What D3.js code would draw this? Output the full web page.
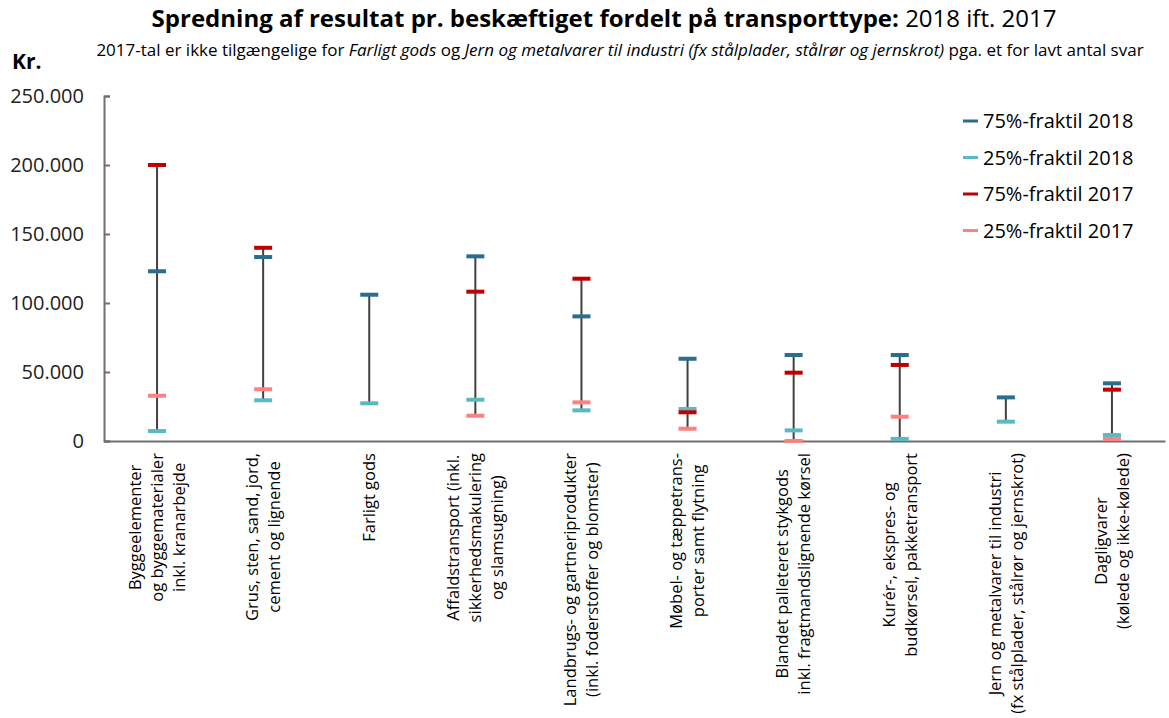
<!DOCTYPE html>
<html>
<head>
<meta charset="utf-8">
<script src="https://cdn.jsdelivr.net/npm/d3@7"></script>
<style>
  body { margin: 0; background: #fff; }
  text { font-family: "Open Sans", "DejaVu Sans", sans-serif; fill: #000; }
</style>
</head>
<body>
<svg id="chart" width="1169" height="718"></svg>
<script>
// categories (multi-line labels)
var categories = [
  ["Byggeelementer", "og byggematerialer", "inkl. kranarbejde"],
  ["Grus, sten, sand, jord,", "cement og lignende"],
  ["Farligt gods"],
  ["Affaldstransport (inkl.", "sikkerhedsmakulering", "og slamsugning)"],
  ["Landbrugs- og gartneriprodukter", "(inkl. foderstoffer og blomster)"],
  ["Møbel- og tæppetrans-", "porter samt flytning"],
  ["Blandet palleteret stykgods", "inkl. fragtmandslignende kørsel"],
  ["Kurér-, ekspres- og", "budkørsel, pakketransport"],
  ["Jern og metalvarer til industri", "(fx stålplader, stålrør og jernskrot)"],
  ["Dagligvarer", "(kølede og ikke-kølede)"]
];

// values (kr.), null = not available
var q75_2018 = [123000, 133300, 106000, 133800, 90300, 59600, 62300, 62300, 31600, 41800];
var q25_2018 = [7200, 29500, 27300, 29900, 22200, 23200, 7700, 1500, 14000, 4300];
var q75_2017 = [200000, 140000, null, 108200, 117600, 20800, 49500, 55100, null, 37200];
var q25_2017 = [32800, 37500, null, 18300, 28000, 8900, 0, 17600, null, 1400];

var seriesNames = ["75%-fraktil 2018", "25%-fraktil 2018", "75%-fraktil 2017", "25%-fraktil 2017"];
var seriesColors = ["#2a6d8c", "#5bb9c4", "#c00000", "#ff8080"];
var yTicks = [0, 50000, 100000, 150000, 200000, 250000];

var series = [q75_2018, q25_2018, q75_2017, q25_2017];

var svg = d3.select("#chart");
var margin = {left: 104, right: 4, top: 96, bottom: 277};
var W = 1169, H = 718;

var x = d3.scaleBand()
  .domain(d3.range(categories.length))
  .range([margin.left, W - margin.right]);
var y = d3.scaleLinear()
  .domain([0, 250000])
  .range([H - margin.bottom, margin.top]);

var fmt = function(v){ return v === 0 ? "0" : d3.format(",")(v).replace(/,/g, "."); };

// title
var title = svg.append("text")
  .attr("x", 604).attr("y", 27)
  .attr("text-anchor", "middle")
  .style("font-size", "24px");
title.append("tspan").attr("font-weight", "bold").text("Spredning af resultat pr. beskæftiget fordelt på transporttype:");
title.append("tspan").text(" 2018 ift. 2017");

var sub = svg.append("text")
  .attr("x", 620).attr("y", 56)
  .attr("text-anchor", "middle")
  .style("font-size", "17px");
sub.append("tspan").text("2017-tal er ikke tilgængelige for ");
sub.append("tspan").attr("font-style", "italic").text("Farligt gods");
sub.append("tspan").text(" og ");
sub.append("tspan").attr("font-style", "italic").text("Jern og metalvarer til industri (fx stålplader, stålrør og jernskrot)");
sub.append("tspan").text(" pga. et for lavt antal svar");

svg.append("text")
  .attr("x", 12).attr("y", 69)
  .attr("font-weight", "bold")
  .style("font-size", "21px")
  .text("Kr.");

// y axis
var yAxis = svg.append("g")
  .attr("transform", "translate(" + margin.left + ",0)")
  .call(d3.axisRight(y).tickValues(yTicks).tickSize(6).tickFormat(""));
yAxis.select(".domain").attr("stroke", "#6f6f6f").attr("stroke-width", 2);
yAxis.selectAll(".tick line").attr("stroke", "#6f6f6f").attr("stroke-width", 2);

svg.append("g").selectAll("text")
  .data(yTicks)
  .join("text")
  .attr("x", 84)
  .attr("y", function(d){ return y(d); })
  .attr("dy", "0.35em")
  .attr("text-anchor", "end")
  .style("font-size", "20px")
  .style("fill", "#222")
  .text(fmt);

// x axis line
var xAxis = svg.append("g")
  .attr("transform", "translate(0," + y(0) + ")")
  .call(d3.axisBottom(x).tickSize(0).tickFormat(""));
xAxis.select(".domain").attr("stroke", "#6f6f6f").attr("stroke-width", 2);

// range lines
var bars = svg.append("g");
categories.forEach(function(c, i){
  var vals = series.map(function(s){ return s[i]; }).filter(function(v){ return v !== null; });
  var cx = x(i) + x.bandwidth() / 2;
  bars.append("line")
    .attr("x1", cx).attr("x2", cx)
    .attr("y1", y(d3.min(vals))).attr("y2", y(d3.max(vals)))
    .attr("stroke", "#404040").attr("stroke-width", 2);
});

// markers
series.forEach(function(s, si){
  svg.append("g").selectAll("rect")
    .data(s.map(function(v, i){ return {v: v, i: i}; }).filter(function(d){ return d.v !== null; }))
    .join("rect")
    .attr("x", function(d){ return x(d.i) + x.bandwidth() / 2 - 9; })
    .attr("y", function(d){ return y(d.v) - 2; })
    .attr("width", 18).attr("height", 4)
    .attr("fill", seriesColors[si]);
});

// category labels, rotated
categories.forEach(function(lines, i){
  var cx = x(i) + x.bandwidth() / 2;
  var lh = 22;
  var n = lines.length;
  var g = svg.append("g")
    .attr("transform", "translate(" + (cx - (n - 1) * lh / 2) + "," + (y(0) + 12) + ") rotate(-90)");
  var t = g.append("text")
    .attr("text-anchor", "middle")
    .style("font-size", "16.5px");
  lines.forEach(function(l, j){
    t.append("tspan").attr("x", 0).attr("y", j * lh).attr("dy", "0.35em").text(l);
  });
  var w = t.node().getBBox().width;
  t.attr("transform", "translate(" + (-w / 2) + ",0)");
});

// legend
var lg = svg.append("g");
seriesNames.forEach(function(name, k){
  var ly = 121 + k * 36.5;
  lg.append("rect")
    .attr("x", 963).attr("y", ly - 1.5)
    .attr("width", 15).attr("height", 3)
    .attr("fill", seriesColors[k]);
  lg.append("text")
    .attr("x", 983).attr("y", ly)
    .attr("dy", "0.35em")
    .style("font-size", "20px")
    .text(name);
});
</script>
</body>
</html>
